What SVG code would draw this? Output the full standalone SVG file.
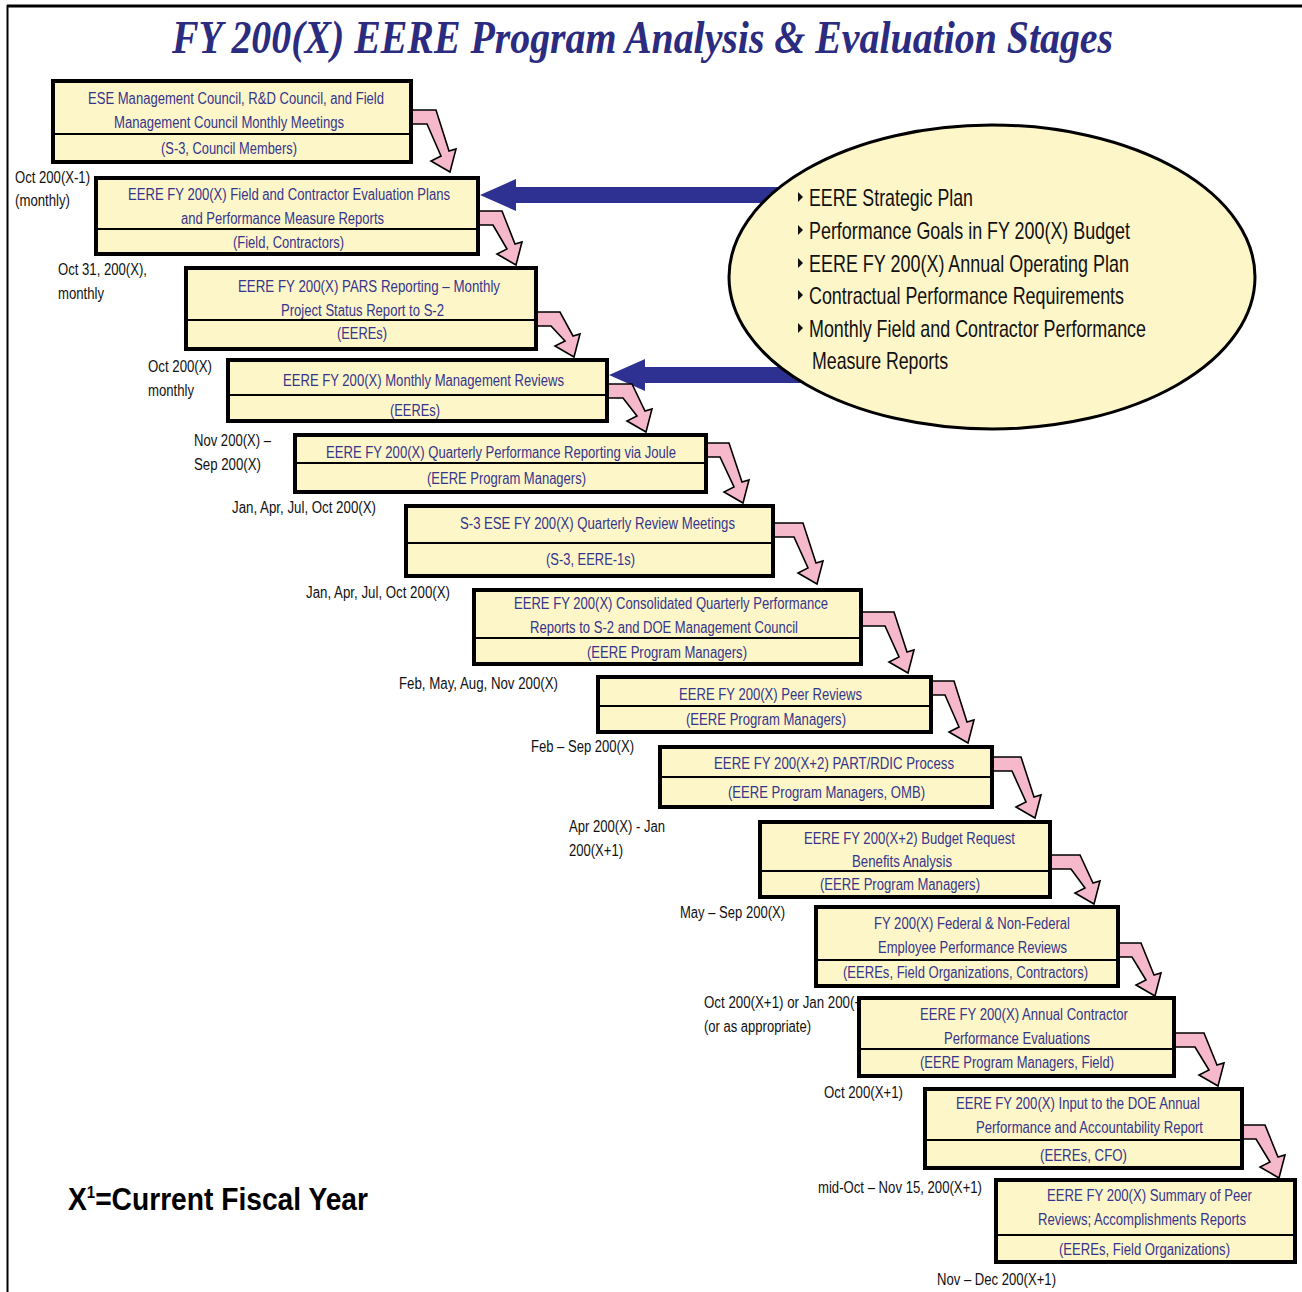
<svg xmlns="http://www.w3.org/2000/svg" width="1302" height="1292" viewBox="0 0 1302 1292">
<style>
.box{fill:#fdf6c9;stroke:#000;stroke-width:4}
.div{stroke:#000;stroke-width:2}
.bt{font-family:"Liberation Sans Narrow","Arial Narrow","Liberation Sans",Arial,sans-serif;font-size:16px;fill:#35358c}
.lb{font-family:"Liberation Sans Narrow","Arial Narrow","Liberation Sans",Arial,sans-serif;font-size:16px;fill:#111}
.et{font-family:"Liberation Sans Narrow","Arial Narrow","Liberation Sans",Arial,sans-serif;font-size:24px;fill:#111}
.pk{fill:#f6b8cb;stroke:#000;stroke-width:1.6;stroke-linejoin:miter}
.bl{fill:#2e3192}
.bu{fill:#111}
</style>
<rect width="1302" height="1292" fill="#fff"/>
<g id="frame">
<line x1="7" y1="6" x2="1302" y2="6" stroke="#000" stroke-width="3"/>
<line x1="7.5" y1="5" x2="7.5" y2="1292" stroke="#000" stroke-width="2"/>
</g>
<text id="title" x="172" y="53" textLength="941" lengthAdjust="spacingAndGlyphs" font-family="'Liberation Serif','Times New Roman',serif" font-weight="bold" font-style="italic" font-size="46" fill="#2b2b80">FY 200(X) EERE Program Analysis &amp; Evaluation Stages</text>

<g id="connectors">
<polygon class="bl" points="480,195 516,179 516,187 790,187 790,203 516,203 516,211"/>
<polygon class="bl" points="609,375 645,359 645,367 810,367 810,383 645,383 645,391"/>
<polygon class="pk" points="408,110 436,110 449,151 456,149 450,172 431,161 441,156 427,124 408,124"/>
<polygon class="pk" points="475,211 502,211 515,244 522,242 516,265 497,254 507,249 493,225 475,225"/>
<polygon class="pk" points="533,312 560,312 573,336 580,334 574,357 555,346 565,341 551,326 533,326"/>
<polygon class="pk" points="604,384 632,384 645,411 652,409 646,432 627,421 637,416 623,398 604,398"/>
<polygon class="pk" points="703,443 729,443 742,482 749,480 743,503 724,492 734,487 720,457 703,457"/>
<polygon class="pk" points="770,523 803,523 816,563 823,561 817,584 798,573 808,568 794,537 770,537"/>
<polygon class="pk" points="858,612 894,612 907,652 914,650 908,673 889,662 899,657 885,626 858,626"/>
<polygon class="pk" points="928,681 954,681 967,722 974,720 968,743 949,732 959,727 945,695 928,695"/>
<polygon class="pk" points="989,757 1021,757 1034,797 1041,795 1035,818 1016,807 1026,802 1012,771 989,771"/>
<polygon class="pk" points="1047,855 1080,855 1093,883 1100,881 1094,904 1075,893 1085,888 1071,869 1047,869"/>
<polygon class="pk" points="1115,943 1141,943 1154,975 1161,973 1155,996 1136,985 1146,980 1132,957 1115,957"/>
<polygon class="pk" points="1171,1033 1204,1033 1217,1065 1224,1063 1218,1086 1199,1075 1209,1070 1195,1047 1171,1047"/>
<polygon class="pk" points="1239,1125 1265,1125 1278,1157 1285,1155 1279,1178 1260,1167 1270,1162 1256,1139 1239,1139"/>
</g>

<g id="labels">
<text class="lb" x="15" y="183" textLength="75" lengthAdjust="spacingAndGlyphs">Oct 200(X-1)</text>
<text class="lb" x="15" y="206" textLength="55" lengthAdjust="spacingAndGlyphs">(monthly)</text>
<text class="lb" x="58" y="275" textLength="89" lengthAdjust="spacingAndGlyphs">Oct 31, 200(X),</text>
<text class="lb" x="58" y="299" textLength="46" lengthAdjust="spacingAndGlyphs">monthly</text>
<text class="lb" x="148" y="372" textLength="64" lengthAdjust="spacingAndGlyphs">Oct 200(X)</text>
<text class="lb" x="148" y="396" textLength="46" lengthAdjust="spacingAndGlyphs">monthly</text>
<text class="lb" x="194" y="446" textLength="77" lengthAdjust="spacingAndGlyphs">Nov 200(X) –</text>
<text class="lb" x="194" y="470" textLength="67" lengthAdjust="spacingAndGlyphs">Sep 200(X)</text>
<text class="lb" x="232" y="513" textLength="144" lengthAdjust="spacingAndGlyphs">Jan, Apr, Jul, Oct 200(X)</text>
<text class="lb" x="306" y="598" textLength="144" lengthAdjust="spacingAndGlyphs">Jan, Apr, Jul, Oct 200(X)</text>
<text class="lb" x="399" y="689" textLength="159" lengthAdjust="spacingAndGlyphs">Feb, May, Aug, Nov 200(X)</text>
<text class="lb" x="531" y="752" textLength="103" lengthAdjust="spacingAndGlyphs">Feb – Sep 200(X)</text>
<text class="lb" x="569" y="832" textLength="96" lengthAdjust="spacingAndGlyphs">Apr 200(X) - Jan</text>
<text class="lb" x="569" y="856" textLength="54" lengthAdjust="spacingAndGlyphs">200(X+1)</text>
<text class="lb" x="680" y="918" textLength="105" lengthAdjust="spacingAndGlyphs">May – Sep 200(X)</text>
<text class="lb" x="704" y="1008" textLength="170" lengthAdjust="spacingAndGlyphs">Oct 200(X+1) or Jan 200(+1)</text>
<text class="lb" x="704" y="1032" textLength="107" lengthAdjust="spacingAndGlyphs">(or as appropriate)</text>
<text class="lb" x="824" y="1098" textLength="79" lengthAdjust="spacingAndGlyphs">Oct 200(X+1)</text>
<text class="lb" x="818" y="1193" textLength="164" lengthAdjust="spacingAndGlyphs">mid-Oct – Nov 15, 200(X+1)</text>
<text class="lb" x="937" y="1285" textLength="119" lengthAdjust="spacingAndGlyphs">Nov – Dec 200(X+1)</text>
</g>

<g id="sources">
<ellipse cx="992" cy="277" rx="263" ry="152" fill="#fdf6c9" stroke="#000" stroke-width="3"/>
<polygon class="bu" points="798,192 803,197 798,202"/>
<polygon class="bu" points="798,225 803,230 798,235"/>
<polygon class="bu" points="798,258 803,263 798,268"/>
<polygon class="bu" points="798,290 803,295 798,300"/>
<polygon class="bu" points="798,323 803,328 798,333"/>
<text class="et" x="809" y="206" textLength="164" lengthAdjust="spacingAndGlyphs">EERE Strategic Plan</text>
<text class="et" x="809" y="239" textLength="321" lengthAdjust="spacingAndGlyphs">Performance Goals in FY 200(X) Budget</text>
<text class="et" x="809" y="272" textLength="320" lengthAdjust="spacingAndGlyphs">EERE FY 200(X) Annual Operating Plan</text>
<text class="et" x="809" y="304" textLength="315" lengthAdjust="spacingAndGlyphs">Contractual Performance Requirements</text>
<text class="et" x="809" y="337" textLength="337" lengthAdjust="spacingAndGlyphs">Monthly Field and Contractor Performance</text>
<text class="et" x="812" y="369" textLength="136" lengthAdjust="spacingAndGlyphs">Measure Reports</text>
</g>

<g id="n1">
<rect class="box" x="53" y="81" width="358" height="81"/><line class="div" x1="53" y1="134" x2="411" y2="134"/>
<text class="bt" x="88" y="104" textLength="296" lengthAdjust="spacingAndGlyphs">ESE Management Council, R&amp;D Council, and Field</text>
<text class="bt" x="114" y="128" textLength="230" lengthAdjust="spacingAndGlyphs">Management Council Monthly Meetings</text>
<text class="bt" x="161" y="154" textLength="136" lengthAdjust="spacingAndGlyphs">(S-3, Council Members)</text>
</g>
<g id="n2">
<rect class="box" x="96" y="178" width="382" height="76"/><line class="div" x1="96" y1="229" x2="478" y2="229"/>
<text class="bt" x="128" y="200" textLength="322" lengthAdjust="spacingAndGlyphs">EERE FY 200(X) Field and Contractor Evaluation Plans</text>
<text class="bt" x="181" y="224" textLength="203" lengthAdjust="spacingAndGlyphs">and Performance Measure Reports</text>
<text class="bt" x="233" y="248" textLength="111" lengthAdjust="spacingAndGlyphs">(Field, Contractors)</text>
</g>
<g id="n3">
<rect class="box" x="186" y="268" width="350" height="81"/><line class="div" x1="186" y1="320" x2="536" y2="320"/>
<text class="bt" x="238" y="292" textLength="262" lengthAdjust="spacingAndGlyphs">EERE FY 200(X) PARS Reporting –  Monthly</text>
<text class="bt" x="281" y="316" textLength="163" lengthAdjust="spacingAndGlyphs">Project Status Report to S-2</text>
<text class="bt" x="337" y="339" textLength="50" lengthAdjust="spacingAndGlyphs">(EEREs)</text>
</g>
<g id="n4">
<rect class="box" x="228" y="360" width="379" height="61"/><line class="div" x1="228" y1="395" x2="607" y2="395"/>
<text class="bt" x="283" y="386" textLength="281" lengthAdjust="spacingAndGlyphs">EERE FY 200(X) Monthly Management Reviews</text>
<text class="bt" x="390" y="416" textLength="50" lengthAdjust="spacingAndGlyphs">(EEREs)</text>
</g>
<g id="n5">
<rect class="box" x="295" y="435" width="411" height="57"/><line class="div" x1="295" y1="463" x2="706" y2="463"/>
<text class="bt" x="326" y="458" textLength="350" lengthAdjust="spacingAndGlyphs">EERE FY 200(X) Quarterly Performance Reporting via Joule</text>
<text class="bt" x="427" y="484" textLength="159" lengthAdjust="spacingAndGlyphs">(EERE Program Managers)</text>
</g>
<g id="n6">
<rect class="box" x="406" y="506" width="367" height="70"/><line class="div" x1="406" y1="543" x2="773" y2="543"/>
<text class="bt" x="460" y="529" textLength="275" lengthAdjust="spacingAndGlyphs">S-3 ESE FY 200(X) Quarterly Review Meetings</text>
<text class="bt" x="546" y="565" textLength="89" lengthAdjust="spacingAndGlyphs">(S-3, EERE-1s)</text>
</g>
<g id="n7">
<rect class="box" x="474" y="590" width="387" height="74"/><line class="div" x1="474" y1="638" x2="861" y2="638"/>
<text class="bt" x="514" y="609" textLength="314" lengthAdjust="spacingAndGlyphs">EERE FY 200(X) Consolidated Quarterly Performance</text>
<text class="bt" x="530" y="633" textLength="268" lengthAdjust="spacingAndGlyphs">Reports to S-2 and DOE Management Council</text>
<text class="bt" x="587" y="658" textLength="160" lengthAdjust="spacingAndGlyphs">(EERE Program Managers)</text>
</g>
<g id="n8">
<rect class="box" x="598" y="677" width="333" height="55"/><line class="div" x1="598" y1="706" x2="931" y2="706"/>
<text class="bt" x="679" y="700" textLength="183" lengthAdjust="spacingAndGlyphs">EERE FY 200(X) Peer Reviews</text>
<text class="bt" x="686" y="725" textLength="160" lengthAdjust="spacingAndGlyphs">(EERE Program Managers)</text>
</g>
<g id="n9">
<rect class="box" x="660" y="747" width="332" height="60"/><line class="div" x1="660" y1="777" x2="992" y2="777"/>
<text class="bt" x="714" y="769" textLength="240" lengthAdjust="spacingAndGlyphs">EERE FY 200(X+2) PART/RDIC Process</text>
<text class="bt" x="728" y="798" textLength="197" lengthAdjust="spacingAndGlyphs">(EERE Program Managers, OMB)</text>
</g>
<g id="n10">
<rect class="box" x="760" y="822" width="290" height="75"/><line class="div" x1="760" y1="871" x2="1050" y2="871"/>
<text class="bt" x="804" y="844" textLength="211" lengthAdjust="spacingAndGlyphs">EERE FY 200(X+2) Budget Request</text>
<text class="bt" x="852" y="867" textLength="100" lengthAdjust="spacingAndGlyphs">Benefits Analysis</text>
<text class="bt" x="820" y="890" textLength="160" lengthAdjust="spacingAndGlyphs">(EERE Program Managers)</text>
</g>
<g id="n11">
<rect class="box" x="816" y="907" width="302" height="79"/><line class="div" x1="816" y1="960" x2="1118" y2="960"/>
<text class="bt" x="874" y="929" textLength="196" lengthAdjust="spacingAndGlyphs">FY 200(X) Federal &amp; Non-Federal</text>
<text class="bt" x="878" y="953" textLength="189" lengthAdjust="spacingAndGlyphs">Employee Performance Reviews</text>
<text class="bt" x="843" y="978" textLength="245" lengthAdjust="spacingAndGlyphs">(EEREs, Field Organizations, Contractors)</text>
</g>
<g id="n12">
<rect class="box" x="859" y="998" width="315" height="78"/><line class="div" x1="859" y1="1049" x2="1174" y2="1049"/>
<text class="bt" x="920" y="1020" textLength="208" lengthAdjust="spacingAndGlyphs">EERE FY 200(X) Annual Contractor</text>
<text class="bt" x="944" y="1044" textLength="146" lengthAdjust="spacingAndGlyphs">Performance Evaluations</text>
<text class="bt" x="920" y="1068" textLength="194" lengthAdjust="spacingAndGlyphs">(EERE Program Managers, Field)</text>
</g>
<g id="n13">
<rect class="box" x="925" y="1089" width="317" height="79"/><line class="div" x1="925" y1="1140" x2="1242" y2="1140"/>
<text class="bt" x="956" y="1109" textLength="244" lengthAdjust="spacingAndGlyphs">EERE FY 200(X) Input to the DOE Annual</text>
<text class="bt" x="976" y="1133" textLength="227" lengthAdjust="spacingAndGlyphs">Performance and Accountability Report</text>
<text class="bt" x="1040" y="1161" textLength="87" lengthAdjust="spacingAndGlyphs">(EEREs, CFO)</text>
</g>
<g id="n14">
<rect class="box" x="996" y="1180" width="299" height="82"/><line class="div" x1="996" y1="1235" x2="1295" y2="1235"/>
<text class="bt" x="1047" y="1201" textLength="205" lengthAdjust="spacingAndGlyphs">EERE FY 200(X) Summary of Peer</text>
<text class="bt" x="1038" y="1225" textLength="208" lengthAdjust="spacingAndGlyphs">Reviews; Accomplishments Reports</text>
<text class="bt" x="1059" y="1255" textLength="171" lengthAdjust="spacingAndGlyphs">(EEREs, Field Organizations)</text>
</g>

<g id="legend">
<text x="68" y="1210" font-family="'Liberation Sans Narrow','Arial Narrow','Liberation Sans',Arial,sans-serif" font-weight="bold" font-size="32" fill="#000" textLength="300" lengthAdjust="spacingAndGlyphs">X<tspan font-size="17" dy="-12">1</tspan><tspan dy="12">=Current Fiscal Year</tspan></text>
</g>
</svg>
